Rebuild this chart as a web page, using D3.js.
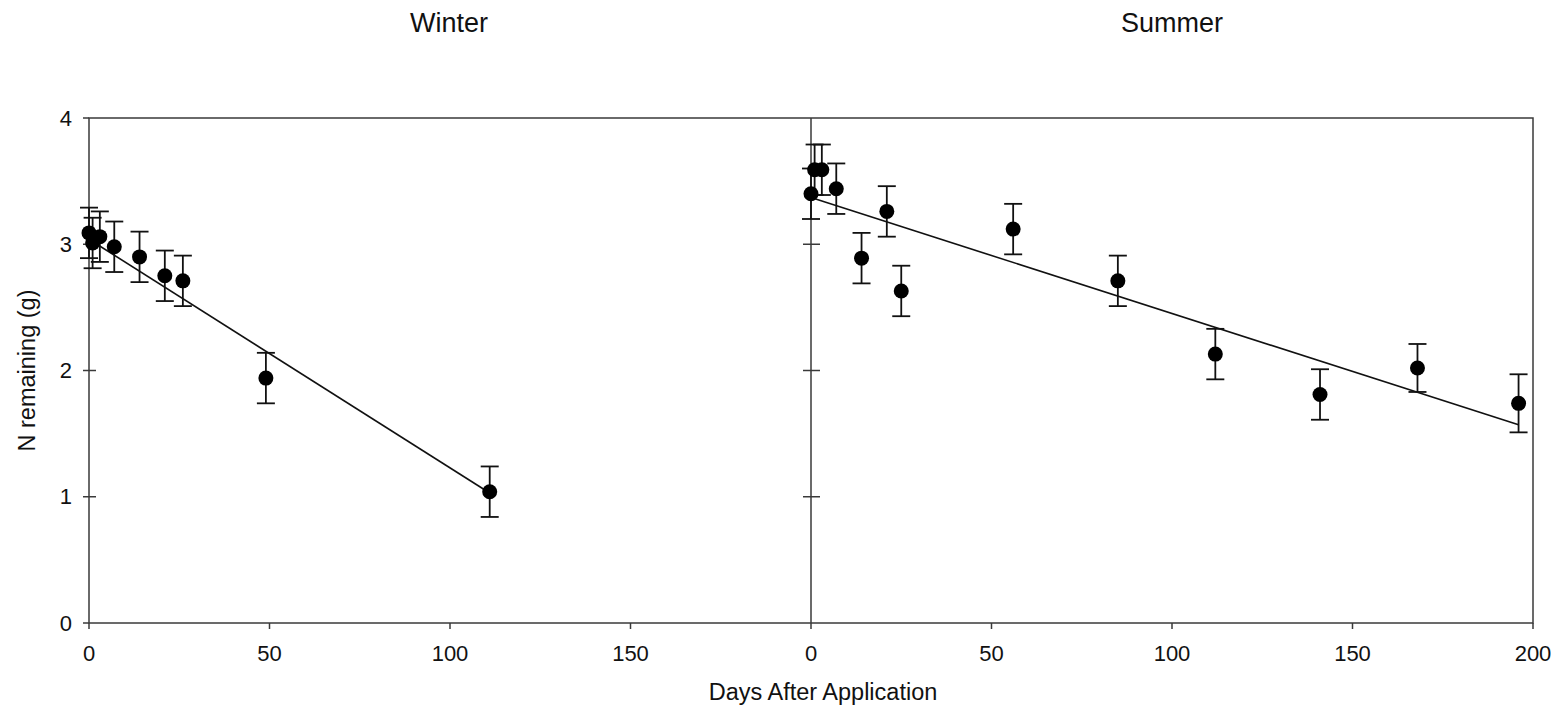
<!DOCTYPE html>
<html>
<head>
<meta charset="utf-8">
<script src="https://cdn.jsdelivr.net/npm/d3@7"></script>
<style>
  body { margin: 0; background: #fff; }
  svg { display: block; font-family: "Liberation Sans", Arial, sans-serif; }
</style>
</head>
<body>
<svg id="chart" width="1564" height="711"></svg>
<script>
// Winter data (days, N remaining g, error)
const winterDays = [0, 1, 3, 7, 14, 21, 26, 49, 111];
const winterN    = [3.09, 3.01, 3.06, 2.98, 2.90, 2.75, 2.71, 1.94, 1.04];
const winterErr  = [0.2, 0.2, 0.2, 0.2, 0.2, 0.2, 0.2, 0.2, 0.2];
const winterFit  = [[0, 3.04], [111, 1.03]];

// Summer data
const summerDays = [0, 1, 3, 7, 14, 21, 25, 56, 85, 112, 141, 168, 196];
const summerN    = [3.40, 3.59, 3.59, 3.44, 2.89, 3.26, 2.63, 3.12, 2.71, 2.13, 1.81, 2.02, 1.74];
const summerErr  = [0.2, 0.2, 0.2, 0.2, 0.2, 0.2, 0.2, 0.2, 0.2, 0.2, 0.2, 0.19, 0.23];
const summerFit  = [[0, 3.37], [196, 1.57]];

const yTicks = [0, 1, 2, 3, 4];
const winterTicks = [0, 50, 100, 150];
const summerTicks = [0, 50, 100, 150, 200];

const svg = d3.select("#chart");
const axisColor = "#3a3a3a";

const plotTop = 118, plotBottom = 623;
const leftX0 = 89, midX = 811, rightX1 = 1533;

const y = d3.scaleLinear().domain([0, 4]).range([plotBottom, plotTop]);
const xWinter = d3.scaleLinear().domain([0, 200]).range([leftX0, midX]);
const xSummer = d3.scaleLinear().domain([0, 200]).range([midX, rightX1]);

// frame
svg.append("rect")
  .attr("x", leftX0).attr("y", plotTop)
  .attr("width", rightX1 - leftX0).attr("height", plotBottom - plotTop)
  .attr("fill", "none").attr("stroke", axisColor).attr("stroke-width", 1.5);

// divider
svg.append("line")
  .attr("x1", midX).attr("x2", midX).attr("y1", plotTop).attr("y2", plotBottom)
  .attr("stroke", axisColor).attr("stroke-width", 1.5);

// y ticks (left axis and divider), crossing ticks
yTicks.forEach(t => {
  svg.append("line")
    .attr("x1", leftX0 - 6).attr("x2", t === 0 || t === 4 ? leftX0 : leftX0 + 7)
    .attr("y1", y(t)).attr("y2", y(t))
    .attr("stroke", axisColor).attr("stroke-width", 1.5);
  if (t > 0 && t < 4) {
    svg.append("line")
      .attr("x1", midX - 8).attr("x2", midX + 9)
      .attr("y1", y(t)).attr("y2", y(t))
      .attr("stroke", axisColor).attr("stroke-width", 1.5);
  }
  svg.append("text")
    .attr("x", leftX0 - 17).attr("y", y(t))
    .attr("text-anchor", "end")
    .attr("dominant-baseline", "central")
    .attr("font-size", "22px").attr("fill", "#111")
    .text(t);
});

// x ticks
function xAxisTicks(scale, ticks) {
  ticks.forEach(t => {
    svg.append("line")
      .attr("x1", scale(t)).attr("x2", scale(t))
      .attr("y1", plotBottom).attr("y2", plotBottom + 6)
      .attr("stroke", axisColor).attr("stroke-width", 1.5);
    svg.append("text")
      .attr("x", scale(t)).attr("y", plotBottom + 38)
      .attr("text-anchor", "middle")
      .attr("font-size", "22px").attr("fill", "#111")
      .text(t);
  });
}
xAxisTicks(xWinter, winterTicks);
xAxisTicks(xSummer, summerTicks);

// titles and labels
svg.append("text").attr("x", 449).attr("y", 32)
  .attr("text-anchor", "middle").attr("font-size", "27px").attr("fill", "#111")
  .text("Winter");
svg.append("text").attr("x", 1172).attr("y", 32)
  .attr("text-anchor", "middle").attr("font-size", "27px").attr("fill", "#111")
  .text("Summer");
svg.append("text").attr("x", 823).attr("y", 700)
  .attr("text-anchor", "middle").attr("font-size", "23.5px").attr("fill", "#111")
  .text("Days After Application");
svg.append("text")
  .attr("transform", `translate(35,${(plotTop + plotBottom) / 2}) rotate(-90)`)
  .attr("text-anchor", "middle").attr("font-size", "23.5px").attr("fill", "#111")
  .text("N remaining (g)");

function drawSeries(xScale, days, vals, errs, fit) {
  const data = days.map((d, i) => ({ day: d, n: vals[i], err: errs[i] }));
  const g = svg.append("g");

  g.append("path")
    .datum(fit)
    .attr("d", d3.line().x(d => xScale(d[0])).y(d => y(d[1])))
    .attr("fill", "none").attr("stroke", "#111").attr("stroke-width", 1.6);

  const eb = g.selectAll(".eb").data(data).join("g").attr("class", "eb")
    .attr("stroke", "#111").attr("stroke-width", 1.8);
  eb.append("line")
    .attr("x1", d => xScale(d.day)).attr("x2", d => xScale(d.day))
    .attr("y1", d => y(d.n + d.err)).attr("y2", d => y(d.n - d.err));
  eb.append("line")
    .attr("x1", d => xScale(d.day) - 9).attr("x2", d => xScale(d.day) + 9)
    .attr("y1", d => y(d.n + d.err)).attr("y2", d => y(d.n + d.err));
  eb.append("line")
    .attr("x1", d => xScale(d.day) - 9).attr("x2", d => xScale(d.day) + 9)
    .attr("y1", d => y(d.n - d.err)).attr("y2", d => y(d.n - d.err));

  g.selectAll("circle").data(data).join("circle")
    .attr("cx", d => xScale(d.day))
    .attr("cy", d => y(d.n))
    .attr("r", 7.5)
    .attr("fill", "#000");
}

drawSeries(xWinter, winterDays, winterN, winterErr, winterFit);
drawSeries(xSummer, summerDays, summerN, summerErr, summerFit);
</script>
</body>
</html>
